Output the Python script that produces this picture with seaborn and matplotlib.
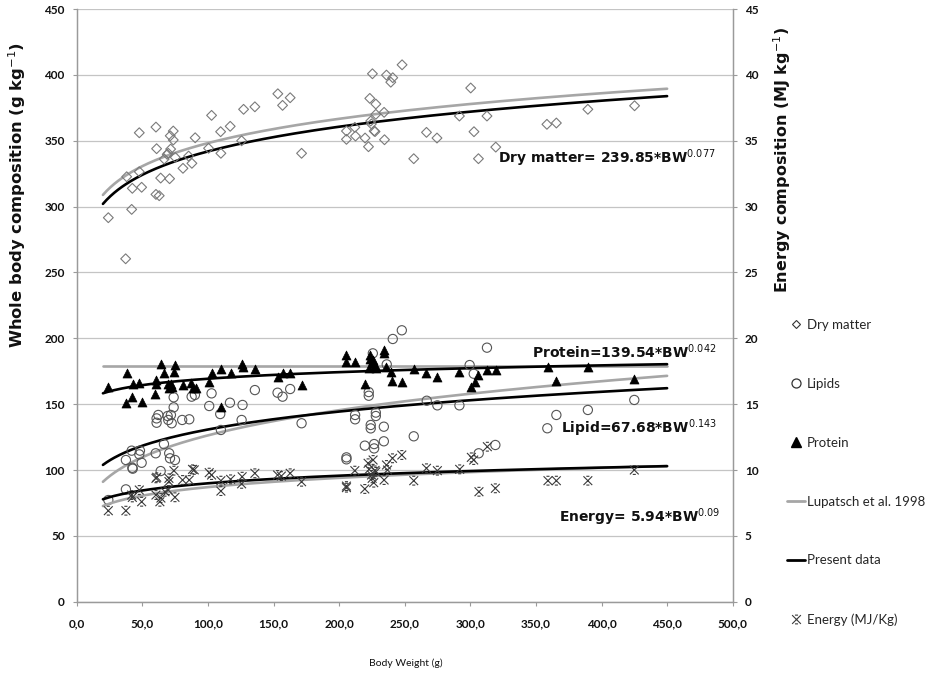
import numpy as np
import pandas as pd
import matplotlib
matplotlib.use("Agg")
import matplotlib.pyplot as plt
import seaborn as sns
from matplotlib.path import Path
from matplotlib.lines import Line2D

# ---------------- data ----------------
dm_bw = [24.1, 37.3, 41.9, 38.1, 42.4, 47.7, 47.7, 49.5, 60.4, 60.9, 60.4, 62.9, 64.0, 66.7, 69.0, 69.8,
         70.8, 71.6, 71.3, 73.6, 73.6, 75.1, 81.0, 85.3, 87.8, 90.3, 100.5, 102.8, 109.9, 109.7, 117.0,
         125.7, 127.2, 135.8, 153.3, 156.9, 162.7, 171.4, 205.6, 205.6, 212.0, 212.5, 219.8, 222.4,
         223.4, 225.4, 224.1, 224.6, 228.0, 228.0, 226.7, 227.4, 234.3, 234.6, 236.1, 239.4, 240.9,
         248.0, 256.9, 266.6, 274.6, 291.7, 300.3, 302.8, 306.2, 312.7, 319.4, 358.4, 365.6, 389.6, 425.2]
dm_gkg = [291.6, 260.4, 297.9, 322.7, 313.9, 356.1, 326.5, 314.7, 360.4, 344.0, 309.3, 308.3, 321.7, 336.1,
          339.7, 340.5, 321.2, 343.7, 353.8, 357.4, 350.6, 337.4, 329.1, 338.4, 332.9, 352.3, 344.3, 369.3,
          340.5, 356.9, 361.0, 350.0, 373.9, 375.8, 385.7, 376.9, 382.7, 340.5, 357.4, 351.1, 360.2, 353.6,
          352.1, 345.5, 382.2, 400.9, 365.0, 362.8, 377.9, 370.1, 357.4, 357.0, 371.6, 350.8, 399.9, 394.5,
          397.9, 407.7, 336.4, 356.4, 352.1, 368.8, 390.1, 356.9, 336.4, 368.8, 345.2, 362.5, 363.5, 373.9,
          376.6]

prot_bw = [24.1, 38.1, 37.5, 41.9, 42.7, 47.7, 49.5, 60.4, 60.2, 59.6, 64.2, 66.7, 69.3, 70.3, 71.8, 72.8,
           74.9, 73.9, 81.0, 87.1, 88.3, 90.9, 100.8, 102.8, 109.7, 109.7, 117.3, 125.7, 127.0, 135.8,
           153.1, 156.9, 162.7, 171.4, 205.6, 205.6, 212.0, 219.8, 223.9, 223.4, 224.7, 225.7, 222.9,
           228.0, 227.4, 234.3, 234.3, 236.1, 239.4, 240.7, 247.8, 256.9, 266.6, 274.9, 291.4, 300.3,
           303.4, 306.2, 313.0, 319.4, 359.2, 389.6, 365.6, 425.0]
prot_gkg = [162.8, 173.4, 150.6, 155.7, 165.3, 165.8, 151.9, 168.3, 165.0, 157.7, 180.3, 173.4, 165.1, 162.0,
            165.3, 162.8, 179.5, 174.4, 164.5, 165.8, 162.5, 162.0, 166.6, 173.9, 176.5, 147.6, 173.4, 180.5,
            178.6, 176.7, 170.8, 173.9, 173.9, 164.5, 187.3, 182.2, 182.2, 165.3, 187.3, 184.0, 181.0, 183.5,
            177.2, 177.2, 179.8, 191.1, 188.5, 178.4, 174.6, 167.6, 167.0, 176.5, 173.4, 170.8, 174.6, 163.3,
            167.0, 172.1, 176.0, 176.0, 178.4, 178.4, 167.8, 168.9]

lip_bw = [24.1, 37.5, 37.5, 41.9, 42.4, 42.7, 48.2, 47.7, 49.5, 60.2, 64.0, 66.5, 70.5, 71.1, 74.9, 62.2,
          60.9, 60.9, 69.3, 69.8, 72.4, 71.8, 73.9, 73.9, 80.4, 85.8, 87.6, 90.1, 102.8, 101.0, 109.4,
          109.9, 116.8, 125.7, 126.4, 135.8, 153.1, 156.9, 162.7, 171.4, 205.6, 205.6, 212.2, 212.2,
          219.6, 222.6, 222.6, 224.1, 224.1, 225.7, 226.7, 226.7, 228.0, 228.0, 234.1, 234.1, 236.3,
          240.9, 247.8, 256.9, 266.8, 274.9, 291.7, 299.5, 302.6, 312.7, 306.4, 319.1, 358.7, 365.6,
          389.6, 425.0]
lip_gkg = [77.2, 85.3, 107.6, 114.7, 101.7, 101.0, 114.7, 111.9, 105.5, 112.7, 99.2, 119.7, 112.7, 108.9,
           107.6, 141.8, 139.2, 135.9, 141.0, 138.0, 135.5, 141.8, 155.2, 147.6, 138.0, 138.5, 155.7, 157.0,
           158.2, 148.6, 142.5, 130.4, 151.1, 138.0, 149.4, 160.7, 158.7, 155.7, 161.5, 135.5, 109.6, 108.1,
           141.8, 138.5, 118.5, 159.2, 156.4, 134.2, 131.6, 188.6, 119.7, 116.4, 141.0, 143.6, 132.9, 121.8,
           180.2, 199.5, 206.1, 125.6, 152.6, 149.1, 149.1, 179.7, 173.1, 192.9, 112.7, 119.0, 131.7, 141.8,
           145.6, 153.2]

en_bw = [24.1, 37.5, 41.9, 42.4, 47.7, 49.5, 60.4, 61.0, 60.4, 63.4, 64.2, 67.3, 70.3, 70.3, 69.8, 74.1,
         74.9, 80.7, 85.8, 88.3, 89.6, 101.0, 102.8, 109.9, 109.9, 117.3, 126.1, 125.7, 135.8, 153.1,
         156.0, 162.7, 171.4, 205.6, 205.6, 212.0, 219.6, 222.1, 222.9, 224.7, 225.2, 226.4, 227.4,
         225.9, 228.0, 234.3, 236.1, 236.9, 240.7, 247.8, 256.9, 266.6, 274.9, 291.9, 300.8, 302.6,
         306.6, 313.0, 319.1, 359.2, 365.6, 389.6, 425.0]
en_mjkg = [6.91, 6.91, 8.10, 7.92, 8.48, 7.59, 9.37, 9.45, 8.10, 7.59, 7.87, 8.35, 9.37, 9.12, 8.48, 9.95,
           7.93, 9.24, 9.24, 10.05, 10.01, 9.80, 9.62, 9.19, 8.40, 9.29, 9.49, 8.95, 9.75, 9.62, 9.54, 9.75,
           9.11, 8.66, 8.78, 9.95, 8.56, 10.51, 10.05, 9.62, 9.37, 9.04, 9.97, 10.76, 9.86, 9.24, 10.38,
           10.00, 10.89, 11.14, 9.19, 10.13, 9.95, 10.05, 10.96, 10.76, 8.35, 11.77, 8.61, 9.19, 9.19, 9.19,
           10.00]

# power curves  value = a * BW^b  (present data: equations printed on the chart)
curve_names = ["Dry matter", "Protein", "Lipid", "Energy"]
present_a = [239.85, 139.54, 67.68, 5.94]
present_b = [0.077, 0.042, 0.143, 0.09]
lupatsch_a = [247.1, 179.0, 49.5, 5.19]
lupatsch_b = [0.0745, 0.0, 0.2034, 0.1122]
curve_range = [20, 450]

equation_texts = ["Dry matter= 239.85*BW$^{0.077}$", "Protein=139.54*BW$^{0.042}$",
                  "Lipid=67.68*BW$^{0.143}$", "Energy= 5.94*BW$^{0.09}$"]

x_ticks = [0, 50, 100, 150, 200, 250, 300, 350, 400, 450, 500]
y_ticks = [0, 50, 100, 150, 200, 250, 300, 350, 400, 450]
y2_ticks = [0, 5, 10, 15, 20, 25, 30, 35, 40, 45]

# ---------------- style ----------------
sns.set_theme(style="white")
plt.rcParams["font.family"] = ["Lato", "DejaVu Sans"]
plt.rcParams["mathtext.fontset"] = "dejavusans"

GRAY_LINE = "#a6a6a6"
SPINE = "#9a9a9a"
GRID = "#c4c4c4"

W, H = 927, 674
fig = plt.figure(figsize=(W / 100, H / 100), dpi=100)
ax = fig.add_axes([76.7 / W, 1 - 601.7 / H, (732.7 - 76.7) / W, (601.7 - 9.1) / H])
ax2 = ax.twinx()

# horizontal grid
ax.set_axisbelow(True)
ax.yaxis.grid(True, color=GRID, linewidth=0.9)
ax.xaxis.grid(False)

# curves
bw_grid = np.linspace(curve_range[0], curve_range[1], 300)
for i, name in enumerate(curve_names):
    target = ax2 if name == "Energy" else ax
    lup = lupatsch_a[i] * bw_grid ** lupatsch_b[i]
    pres = present_a[i] * bw_grid ** present_b[i]
    sns.lineplot(x=bw_grid, y=lup, ax=target, color=GRAY_LINE, linewidth=1.9, sort=False,
                 estimator=None, zorder=2)
    sns.lineplot(x=bw_grid, y=pres, ax=target, color="black", linewidth=1.9, sort=False,
                 estimator=None, zorder=3)

# scatter series
sns.scatterplot(x=dm_bw, y=dm_gkg, ax=ax, marker="D", s=25, facecolor="none",
                edgecolor="#7a7a7a", linewidth=0.8, zorder=4)
sns.scatterplot(x=lip_bw, y=lip_gkg, ax=ax, marker="o", s=44, facecolor="none",
                edgecolor="#555555", linewidth=0.8, zorder=4)
sns.scatterplot(x=prot_bw, y=prot_gkg, ax=ax, marker="^", s=42, color="black",
                edgecolor="black", linewidth=0.5, zorder=5)

star_path = Path([(-1, -1), (1, 1), (-1, 1), (1, -1), (-0.35, 1), (0.35, 1), (-0.35, -1), (0.35, -1)],
                 [Path.MOVETO, Path.LINETO, Path.MOVETO, Path.LINETO,
                  Path.MOVETO, Path.LINETO, Path.MOVETO, Path.LINETO])
sns.scatterplot(x=en_bw, y=en_mjkg, ax=ax2, marker=star_path, s=40, facecolor="none",
                edgecolor="#3a3a3a", linewidth=0.8, zorder=5)

# axes limits & ticks
ax.set_xlim(0, 500)
ax.set_ylim(0, 450)
ax2.set_ylim(0, 45)
ax.set_xticks(x_ticks)
ax.set_xticklabels([f"{v:.1f}".replace(".", ",") for v in x_ticks])
ax.set_yticks(y_ticks)
ax.set_yticklabels([str(v) for v in y_ticks])
ax2.set_yticks(y2_ticks)
ax2.set_yticklabels([str(v) for v in y2_ticks])
ax.set_xlabel("")
ax.set_ylabel("")
ax2.set_ylabel("")

for lab in ax.get_xticklabels() + ax.get_yticklabels() + ax2.get_yticklabels():
    lab.set_fontfamily(["Lato", "DejaVu Sans"])
    lab.set_fontweight("bold")
    lab.set_fontsize(8.5)
    lab.set_color("#111111")

ax.tick_params(axis="x", direction="out", length=3.2, width=0.8, color=SPINE, pad=9, bottom=True)
ax.tick_params(axis="y", direction="out", length=3.2, width=0.8, color=SPINE, pad=5.5, left=True)
ax2.tick_params(axis="y", direction="out", length=3.2, width=0.8, color=SPINE, pad=5.5, right=True)

for a in (ax, ax2):
    for side, sp in a.spines.items():
        sp.set_color(SPINE)
        sp.set_linewidth(0.9)
    a.spines["top"].set_visible(False)

# equations
eq_pos_x = [486.7, 488.0, 488.0, 490.5]
eq_pos_y = [332.9, 185.3, 128.3, 60.7]
for txt, ex, ey in zip(equation_texts, eq_pos_x, eq_pos_y):
    ax.text(ex, ey, txt, ha="right", va="baseline", fontsize=10, fontweight="bold",
            family="DejaVu Sans", color="#111111", zorder=6)

# axis titles
fig.text(17 / W, 1 - 195 / H, "Whole body composition (g kg$^{-1}$)", rotation=90, ha="center",
         va="center", fontsize=11.8, fontweight="bold", family="DejaVu Sans", color="#111111")
fig.text(782 / W, 1 - 160 / H, "Energy composition (MJ kg$^{-1}$)", rotation=90, ha="center",
         va="center", fontsize=11.5, fontweight="bold", family="DejaVu Sans", color="#111111")
fig.text(406 / W, 1 - 663 / H, "Body Weight (g)", ha="center", va="center", fontsize=7.5,
         color="#111111")

# legend
handles = [
    Line2D([], [], marker="D", ls="none", mfc="none", mec="#333333", ms=4.4, mew=0.8),
    Line2D([], [], marker="o", ls="none", mfc="none", mec="#333333", ms=6.5, mew=0.9),
    Line2D([], [], marker="^", ls="none", mfc="black", mec="black", ms=6.5),
    Line2D([], [], color=GRAY_LINE, lw=2.0),
    Line2D([], [], color="black", lw=2.0),
    Line2D([], [], marker=star_path, ls="none", mfc="none", mec="#3a3a3a", ms=6.3, mew=0.8),
]
labels = ["Dry matter", "Lipids", "Protein", "Lupatsch et al. 1998", "Present data", "Energy (MJ/Kg)"]
fig.legend(handles, labels, loc="upper left", bbox_to_anchor=(787 / W, 1 - 319 / H),
           frameon=False, labelspacing=3.55, handlelength=1.35, handletextpad=0.15,
           borderpad=0, borderaxespad=0, prop=dict(family=["Lato", "DejaVu Sans"], size=9.5))

fig.savefig("out.png", dpi=100)
